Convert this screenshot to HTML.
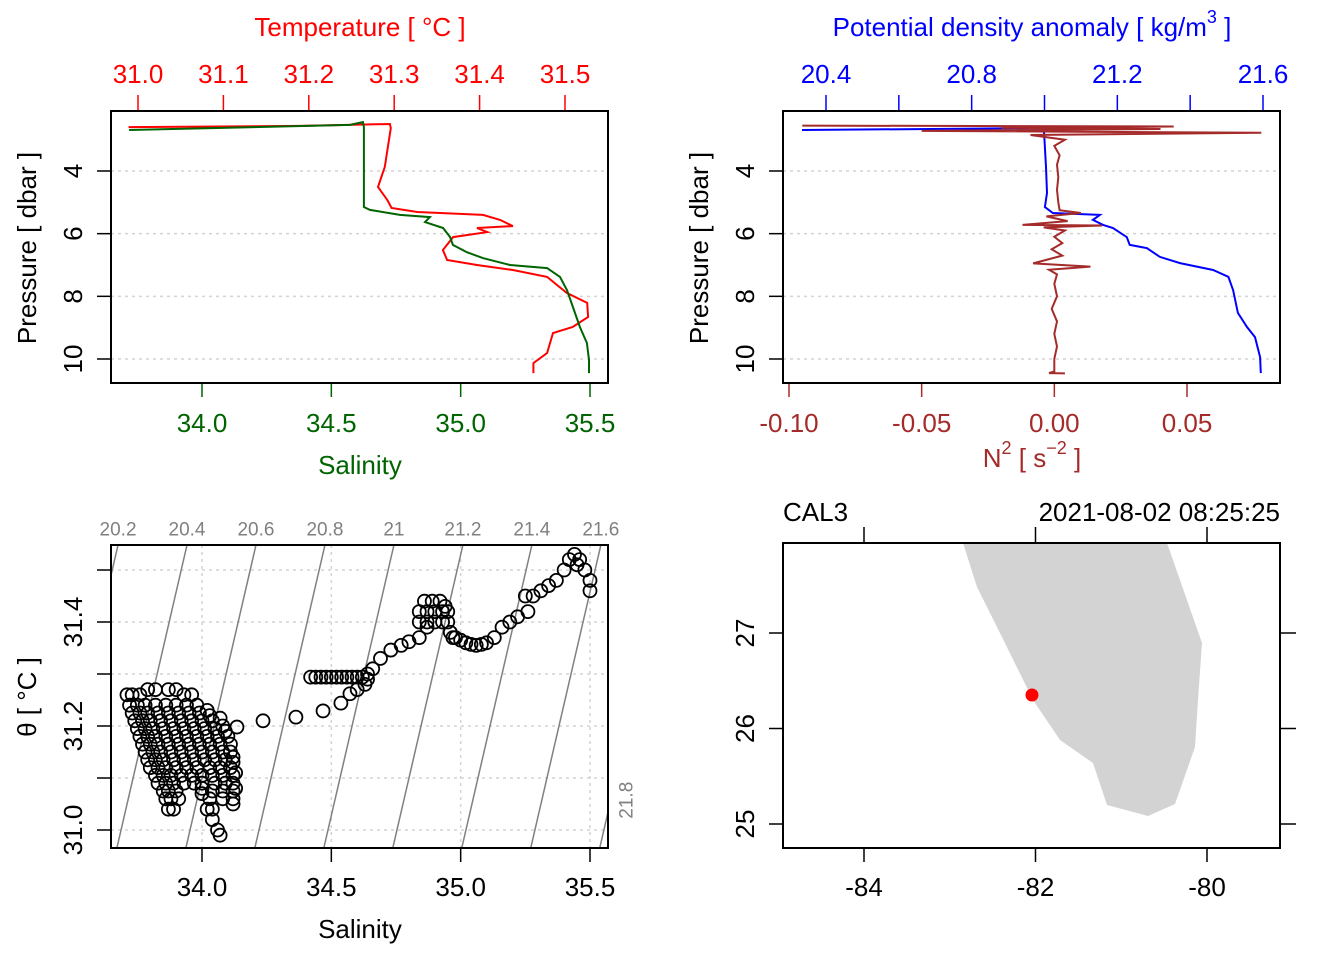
<!DOCTYPE html>
<html><head><meta charset="utf-8"><style>
html,body{margin:0;padding:0;background:#fff;}
svg{display:block;font-family:"Liberation Sans",Arial,sans-serif;}
</style></head>
<body>
<svg id="fig" width="1344" height="960" viewBox="0 0 1344 960" xmlns="http://www.w3.org/2000/svg"></svg>
<script>
// ---------- Panel 1 data: temperature & salinity profiles ----------
const tempPressure = [2.60,2.56,2.50,2.63,3.33,3.87,4.51,4.93,5.18,5.31,5.40,5.56,5.76,5.82,5.95,6.11,6.52,6.84,7.00,7.16,7.38,7.89,8.21,8.66,8.98,9.17,9.81,10.13,10.45];
const temperature = [30.989,31.190,31.295,31.296,31.292,31.289,31.281,31.292,31.297,31.327,31.404,31.424,31.439,31.397,31.409,31.369,31.357,31.362,31.397,31.439,31.479,31.502,31.526,31.527,31.509,31.486,31.479,31.463,31.463];
const salPressure = [2.69,2.53,2.44,2.60,5.15,5.24,5.40,5.47,5.63,5.82,6.11,6.36,6.59,6.78,7.00,7.10,7.38,7.80,8.34,8.98,9.49,10.03,10.45];
const salinity = [33.718,34.572,34.622,34.626,34.626,34.649,34.765,34.881,34.862,34.932,34.959,34.970,35.024,35.086,35.191,35.334,35.384,35.411,35.434,35.461,35.488,35.496,35.496];
const tempTicks = [31.0,31.1,31.2,31.3,31.4,31.5];
const salTicks = [34.0,34.5,35.0,35.5];
const pressureTicks = [4,6,8,10];

// ---------- Panel 2 data: density & N2 ----------
const sigmaPressure = [2.69,2.63,2.79,3.87,4.70,5.15,5.34,5.40,5.56,5.72,5.82,6.11,6.36,6.46,6.74,6.94,7.16,7.38,7.80,8.53,8.98,9.30,9.94,10.45];
const sigma = [20.334,20.996,20.999,21.004,21.007,21.001,21.023,21.152,21.133,21.161,21.188,21.226,21.234,21.281,21.317,21.372,21.463,21.505,21.518,21.531,21.556,21.578,21.592,21.594];
const n2Pressure = [2.55,2.58,2.62,2.66,2.72,2.78,2.85,3.0,3.2,3.5,3.8,4.2,4.6,5.0,5.25,5.34,5.45,5.6,5.72,5.74,5.8,5.9,6.1,6.3,6.5,6.7,6.95,7.05,7.15,7.3,7.6,8.0,8.4,8.8,9.2,9.6,10.0,10.4,10.45,10.46];
const n2 = [-0.095,0.045,-0.02,0.040,-0.05,0.078,-0.009,0.004,0.000,0.002,0.001,0.0015,0.001,0.0015,0.002,0.010,-0.003,0.005,-0.012,0.018,-0.004,0.004,0.000,0.003,-0.001,0.003,-0.008,0.0136,-0.002,0.001,0.000,0.001,-0.001,0.001,0.000,0.001,0.000,0.000,-0.002,0.004];
const sigmaTicks = [20.4,20.6,20.8,21.0,21.2,21.4,21.6];
const sigmaTickLabels = ["20.4","","20.8","","21.2","","21.6"];
const n2Ticks = [-0.10,-0.05,0.00,0.05];
const n2TickLabels = ["-0.10","-0.05","0.00","0.05"];

// ---------- Panel 3 data: TS diagram ----------
const tsPoints = [
[33.71,31.26],[33.73,31.26],[33.76,31.26],[33.79,31.27],[33.82,31.27],[33.87,31.27],[33.90,31.27],[33.93,31.26],[33.96,31.26],
[33.72,31.24],[33.75,31.24],[33.78,31.24],[33.82,31.24],[33.86,31.24],[33.90,31.24],[33.94,31.24],[33.98,31.24],[34.02,31.23],
[33.73,31.225],[33.76,31.225],[33.79,31.225],[33.83,31.225],[33.87,31.225],[33.91,31.225],[33.95,31.225],[33.99,31.225],[34.03,31.22],[34.07,31.215],
[33.74,31.21],[33.77,31.21],[33.80,31.21],[33.84,31.21],[33.88,31.21],[33.92,31.21],[33.96,31.21],[34.00,31.21],[34.04,31.21],[34.08,31.20],
[33.75,31.195],[33.78,31.195],[33.81,31.195],[33.85,31.195],[33.89,31.195],[33.93,31.195],[33.97,31.195],[34.01,31.195],[34.05,31.195],[34.09,31.19],
[33.76,31.18],[33.79,31.18],[33.82,31.18],[33.86,31.18],[33.90,31.18],[33.94,31.18],[33.98,31.18],[34.02,31.18],[34.06,31.18],[34.10,31.18],
[33.77,31.165],[33.80,31.165],[33.83,31.165],[33.87,31.165],[33.91,31.165],[33.95,31.165],[33.99,31.165],[34.03,31.165],[34.07,31.165],[34.11,31.165],
[33.78,31.15],[33.81,31.15],[33.84,31.15],[33.88,31.15],[33.92,31.15],[33.96,31.15],[34.00,31.15],[34.04,31.15],[34.08,31.15],[34.11,31.15],
[33.79,31.135],[33.82,31.135],[33.85,31.135],[33.89,31.135],[33.93,31.135],[33.97,31.135],[34.01,31.135],[34.05,31.135],[34.09,31.135],[34.12,31.13],
[33.80,31.12],[33.83,31.12],[33.86,31.12],[33.90,31.12],[33.94,31.12],[33.98,31.12],[34.03,31.12],[34.07,31.12],[34.11,31.12],
[33.82,31.105],[33.85,31.105],[33.88,31.105],[33.92,31.105],[33.96,31.105],[34.00,31.105],[34.04,31.105],[34.08,31.105],[34.12,31.105],
[33.83,31.09],[33.86,31.09],[33.89,31.09],[33.93,31.09],[33.97,31.09],[34.00,31.09],[34.05,31.09],[34.09,31.09],[34.12,31.09],
[33.85,31.075],[33.87,31.075],[33.90,31.075],[34.00,31.08],[34.04,31.075],[34.08,31.075],[34.12,31.075],
[33.86,31.06],[33.88,31.06],[33.91,31.06],[34.00,31.07],[34.03,31.06],[34.08,31.06],[34.12,31.06],[34.13,31.08],[34.13,31.11],[34.12,31.14],
[33.87,31.04],[33.89,31.04],[34.02,31.04],[34.04,31.04],[34.12,31.05],[34.04,31.02],[34.06,31.00],[34.07,30.99],
[34.135,31.198],[34.236,31.210],[34.363,31.217],[34.468,31.229],[34.537,31.244],[34.572,31.262],[34.60,31.27],[34.63,31.28],
[34.42,31.294],[34.44,31.294],[34.46,31.294],[34.48,31.294],[34.50,31.294],[34.52,31.294],[34.54,31.294],[34.56,31.294],[34.58,31.294],[34.60,31.294],[34.62,31.294],[34.64,31.29],[34.64,31.30],
[34.66,31.31],[34.69,31.33],[34.73,31.346],[34.77,31.355],[34.80,31.362],[34.84,31.37],[34.87,31.39],
[34.84,31.40],[34.87,31.40],[34.90,31.40],[34.93,31.40],[34.95,31.40],[34.84,31.42],[34.87,31.42],[34.90,31.42],[34.93,31.42],[34.95,31.42],[34.86,31.44],[34.89,31.44],[34.92,31.44],[34.94,31.43],[34.96,31.38],[34.97,31.37],
[34.98,31.37],[35.00,31.365],[35.02,31.36],[35.04,31.357],[35.06,31.355],[35.08,31.357],[35.10,31.36],[35.13,31.37],[35.16,31.39],[35.19,31.40],[35.22,31.41],
[35.26,31.42],[35.25,31.45],[35.28,31.45],[35.31,31.46],[35.34,31.47],[35.37,31.48],[35.40,31.50],[35.42,31.52],[35.44,31.53],[35.45,31.51],[35.46,31.52],[35.48,31.50],[35.50,31.48],[35.50,31.46]
];
const thetaTicks = [31.0,31.1,31.2,31.3,31.4,31.5];
const thetaTickLabels = ["31.0","","31.2","","31.4",""];
const isopycnalLevels = [20.2,20.4,20.6,20.8,21.0,21.2,21.4,21.6,21.8];
const isopycnalLabels = ["20.2","20.4","20.6","20.8","21","21.2","21.4","21.6","21.8"];

// ---------- Panel 4 data: map ----------
const coastLon = [-82.845,-82.682,-82.449,-82.029,-81.714,-81.329,-81.166,-80.688,-80.373,-80.140,-80.105,-80.058,-80.467];
const coastLat = [27.942,27.482,27.063,26.298,25.880,25.639,25.199,25.084,25.209,25.806,26.298,26.895,27.942];
const stationLon = [-82.041];
const stationLat = [26.351];
const lonTicks = [-84,-82,-80];
const latTicks = [25,26,27];

// ---------- helpers ----------
const NS = "http://www.w3.org/2000/svg";
const svg = document.getElementById('fig');
function add(parent, tag, attrs, name, inter) {
  const el = document.createElementNS(NS, tag);
  for (const k in attrs) el.setAttribute(k, attrs[k]);
  
  
  parent.appendChild(el);
  return el;
}
function txt(parent, x, y, s, size, color, name, anchor, rot) {
  const t = add(parent, 'text', {x: x, y: y, 'font-size': size, fill: color, 'text-anchor': anchor || 'middle', 'dominant-baseline': 'central'}, name, false);
  if (rot) t.setAttribute('transform', 'rotate(' + rot + ' ' + x + ' ' + y + ')');
  t.textContent = s;
  return t;
}
function lin(d0, d1, r0, r1) { return v => r0 + (v - d0) * (r1 - r0) / (d1 - d0); }
function poly(xs, ys) { return xs.map((x, i) => x.toFixed(1) + ',' + ys[i].toFixed(1)).join(' '); }

const GRID = '#d3d3d3';
const TICK = 26, TITLE = 26;

// ================= Panel 1 =================
(function () {
  const g = add(svg, 'g', {}, 'temperature-salinity-profile-panel', false);
  const L = 111, R = 608, T = 111, B = 383;
  const yP = lin(4, 10, 171, 359);
  const xT = lin(31.0, 31.5, 138, 565);
  const xS = lin(34.0, 35.5, 202, 590);
  pressureTicks.forEach(p => {
    add(g, 'line', {x1: L, x2: R, y1: yP(p), y2: yP(p), stroke: GRID, 'stroke-width': 1.5, 'stroke-dasharray': '3,4'}, 'pressure-gridline', false);
    add(g, 'line', {x1: L - 14, x2: L, y1: yP(p), y2: yP(p), stroke: '#000', 'stroke-width': 1.5}, 'pressure-tick', false);
    txt(g, 73, yP(p), String(p), TICK, '#000', 'pressure-tick-label', 'middle', -90);
  });
  txt(g, 27, 248, 'Pressure [ dbar ]', TITLE, '#000', 'y-axis-title', 'middle', -90);
  tempTicks.forEach(t => {
    add(g, 'line', {x1: xT(t), x2: xT(t), y1: 95, y2: T, stroke: '#f00', 'stroke-width': 1.5}, 'temperature-tick', false);
    txt(g, xT(t), 74, t.toFixed(1), TICK, '#f00', 'temperature-tick-label');
  });
  txt(g, 360, 27, 'Temperature [ °C ]', TITLE, '#f00', 'temperature-axis-title');
  salTicks.forEach(s => {
    add(g, 'line', {x1: xS(s), x2: xS(s), y1: B, y2: B + 14, stroke: '#006400', 'stroke-width': 1.5}, 'salinity-tick', false);
    txt(g, xS(s), 423, s.toFixed(1), TICK, '#006400', 'salinity-tick-label');
  });
  txt(g, 360, 465, 'Salinity', TITLE, '#006400', 'salinity-axis-title');
  add(g, 'polyline', {points: poly(temperature.map(xT), tempPressure.map(yP)), fill: 'none', stroke: '#f00', 'stroke-width': 2}, 'temperature-line', false);
  add(g, 'polyline', {points: poly(salinity.map(xS), salPressure.map(yP)), fill: 'none', stroke: '#006400', 'stroke-width': 2}, 'salinity-line', false);
  add(g, 'rect', {x: L, y: T, width: R - L, height: B - T, fill: 'none', stroke: '#000', 'stroke-width': 2}, 'plot-frame', false);
})();

// ================= Panel 2 =================
(function () {
  const g = add(svg, 'g', {}, 'density-n2-profile-panel', false);
  const L = 783, R = 1280, T = 111, B = 383;
  const yP = lin(4, 10, 171, 359);
  const xD = lin(20.4, 21.6, 826, 1263);
  const xN = lin(-0.10, 0.05, 789, 1187);
  pressureTicks.forEach(p => {
    add(g, 'line', {x1: L, x2: R, y1: yP(p), y2: yP(p), stroke: GRID, 'stroke-width': 1.5, 'stroke-dasharray': '3,4'}, 'pressure-gridline', false);
    add(g, 'line', {x1: L - 14, x2: L, y1: yP(p), y2: yP(p), stroke: '#000', 'stroke-width': 1.5}, 'pressure-tick', false);
    txt(g, 745, yP(p), String(p), TICK, '#000', 'pressure-tick-label', 'middle', -90);
  });
  txt(g, 699, 248, 'Pressure [ dbar ]', TITLE, '#000', 'y-axis-title', 'middle', -90);
  sigmaTicks.forEach((s, i) => {
    add(g, 'line', {x1: xD(s), x2: xD(s), y1: 95, y2: T, stroke: '#00f', 'stroke-width': 1.5}, 'density-tick', false);
    if (sigmaTickLabels[i]) txt(g, xD(s), 74, sigmaTickLabels[i], TICK, '#00f', 'density-tick-label');
  });
  const dt = add(g, 'text', {x: 1032, y: 27, 'font-size': TITLE, fill: '#00f', 'text-anchor': 'middle', 'dominant-baseline': 'central'}, 'density-axis-title', false);
  dt.innerHTML = 'Potential density anomaly [ kg/m<tspan dy="-10" font-size="18">3</tspan><tspan dy="10"> ]</tspan>';
  n2Ticks.forEach((v, i) => {
    add(g, 'line', {x1: xN(v), x2: xN(v), y1: B, y2: B + 14, stroke: '#a52a2a', 'stroke-width': 1.5}, 'n2-tick', false);
    txt(g, xN(v), 423, n2TickLabels[i], TICK, '#a52a2a', 'n2-tick-label');
  });
  const nt = add(g, 'text', {x: 1032, y: 458, 'font-size': TITLE, fill: '#a52a2a', 'text-anchor': 'middle', 'dominant-baseline': 'central'}, 'n2-axis-title', false);
  nt.innerHTML = 'N<tspan dy="-10" font-size="18">2</tspan><tspan dy="10"> [ s</tspan><tspan dy="-10" font-size="18">−2</tspan><tspan dy="10"> ]</tspan>';
  add(g, 'polyline', {points: poly(sigma.map(xD), sigmaPressure.map(yP)), fill: 'none', stroke: '#00f', 'stroke-width': 2}, 'density-line', false);
  add(g, 'polyline', {points: poly(n2.map(xN), n2Pressure.map(yP)), fill: 'none', stroke: '#a52a2a', 'stroke-width': 2}, 'n2-line', false);
  add(g, 'rect', {x: L, y: T, width: R - L, height: B - T, fill: 'none', stroke: '#000', 'stroke-width': 2}, 'plot-frame', false);
})();

// ================= Panel 3 =================
(function () {
  const g = add(svg, 'g', {}, 'ts-diagram-panel', false);
  const L = 111, R = 608, T = 545, B = 848;
  const xS = lin(34.0, 35.5, 202, 590);
  const yTh = lin(31.0, 31.4, 830, 622);
  const thInv = lin(830, 622, 31.0, 31.4);
  add(svg, 'clipPath', {id: 'tsclip'}, 'ts-clip', false).appendChild((() => {
    const r = document.createElementNS(NS, 'rect');
    r.setAttribute('x', L); r.setAttribute('y', T); r.setAttribute('width', R - L); r.setAttribute('height', B - T);
    return r;
  })());
  thetaTicks.forEach((t, i) => {
    add(g, 'line', {x1: L, x2: R, y1: yTh(t), y2: yTh(t), stroke: GRID, 'stroke-width': 1.5, 'stroke-dasharray': '3,4'}, 'theta-gridline', false);
    add(g, 'line', {x1: L - 14, x2: L, y1: yTh(t), y2: yTh(t), stroke: '#000', 'stroke-width': 1.5}, 'theta-tick', false);
    if (thetaTickLabels[i]) txt(g, 73, yTh(t), thetaTickLabels[i], TICK, '#000', 'theta-tick-label', 'middle', -90);
  });
  salTicks.forEach(s => {
    add(g, 'line', {x1: xS(s), x2: xS(s), y1: T, y2: B, stroke: GRID, 'stroke-width': 1.5, 'stroke-dasharray': '3,4'}, 'salinity-gridline', false);
    add(g, 'line', {x1: xS(s), x2: xS(s), y1: B, y2: B + 14, stroke: '#000', 'stroke-width': 1.5}, 'salinity-tick', false);
    txt(g, xS(s), 887, s.toFixed(1), TICK, '#000', 'salinity-tick-label');
  });
  txt(g, 360, 929, 'Salinity', TITLE, '#000', 'x-axis-title');
  txt(g, 27, 697, 'θ [ °C ]', TITLE, '#000', 'y-axis-title', 'middle', -90);
  const thTop = thInv(T), thBot = thInv(B);
  const cg = add(g, 'g', {'clip-path': 'url(#tsclip)'}, 'isopycnal-group', false);
  isopycnalLevels.forEach((lev, i) => {
    const sTop = 33.942 + (lev - 20.4 + 0.349 * (thTop - 31.548)) / 0.75;
    const sBot = 33.942 + (lev - 20.4 + 0.349 * (thBot - 31.548)) / 0.75;
    const x1 = xS(sBot), x2 = xS(sTop);
    add(cg, 'line', {x1: x1, y1: B, x2: x2, y2: T, stroke: '#808080', 'stroke-width': 1.5}, 'isopycnal-line', false);
    if (x2 <= R + 2) {
      txt(g, x2, 530, isopycnalLabels[i], 19, '#808080', 'isopycnal-label');
    } else {
      const yR = B - (R - x1) * (B - T) / (x2 - x1);
      txt(g, 627, Math.max(yR, T) - 12, isopycnalLabels[i], 19, '#808080', 'isopycnal-label', 'middle', -90);
    }
  });
  const pg = add(g, 'g', {'clip-path': 'url(#tsclip)'}, 'ts-points', false);
  tsPoints.forEach(p => {
    add(pg, 'circle', {cx: xS(p[0]), cy: yTh(p[1]), r: 6.5, fill: 'none', stroke: '#000', 'stroke-width': 1.8}, 'ts-point', false);
  });
  add(g, 'rect', {x: L, y: T, width: R - L, height: B - T, fill: 'none', stroke: '#000', 'stroke-width': 2}, 'plot-frame', false);
})();

// ================= Panel 4 =================
(function () {
  const g = add(svg, 'g', {}, 'station-map-panel', false);
  const L = 783, R = 1280, T = 543, B = 848;
  const xL = lin(-84, -80, 864, 1207);
  const yL = lin(27, 25, 633, 824);
  add(g, 'polygon', {points: poly(coastLon.map(xL), coastLat.map(yL)), fill: '#d3d3d3', stroke: 'none'}, 'florida-land', false);
  stationLon.forEach((lo, i) => {
    add(g, 'circle', {cx: xL(lo), cy: yL(stationLat[i]), r: 6.5, fill: '#f00'}, 'station-marker', true);
  });
  lonTicks.forEach(v => {
    add(g, 'line', {x1: xL(v), x2: xL(v), y1: B, y2: B + 14, stroke: '#000', 'stroke-width': 1.5}, 'longitude-tick', false);
    add(g, 'line', {x1: xL(v), x2: xL(v), y1: T - 16, y2: T, stroke: '#000', 'stroke-width': 1.5}, 'longitude-top-tick', false);
    txt(g, xL(v), 887, String(v), TICK, '#000', 'longitude-tick-label');
  });
  latTicks.forEach(v => {
    add(g, 'line', {x1: L - 14, x2: L, y1: yL(v), y2: yL(v), stroke: '#000', 'stroke-width': 1.5}, 'latitude-tick', false);
    add(g, 'line', {x1: R, x2: R + 16, y1: yL(v), y2: yL(v), stroke: '#000', 'stroke-width': 1.5}, 'latitude-right-tick', false);
    txt(g, 745, yL(v), String(v), TICK, '#000', 'latitude-tick-label', 'middle', -90);
  });
  txt(g, 783, 512, 'CAL3', TICK, '#000', 'station-name', 'start');
  txt(g, 1280, 512, '2021-08-02 08:25:25', TICK, '#000', 'station-time', 'end');
  add(g, 'rect', {x: L, y: T, width: R - L, height: B - T, fill: 'none', stroke: '#000', 'stroke-width': 2}, 'plot-frame', false);
})();
</script>
</body></html>
